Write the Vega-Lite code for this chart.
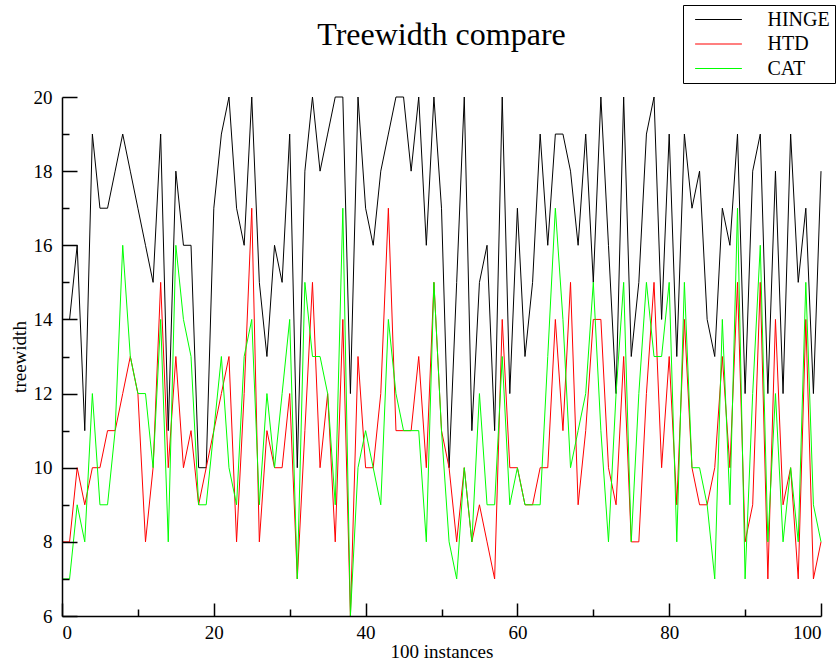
{
  "$schema": "https://vega.github.io/schema/vega-lite/v6.json",
  "width": 759,
  "height": 519,
  "autosize": {"type": "none"},
  "padding": {"left": 62, "top": 97, "right": 19, "bottom": 50},
  "background": "white",
  "config": {"view": {"stroke": null}, "font": "Liberation Serif"},
  "title": {"text": "Treewidth compare", "fontSize": 32, "font": "Liberation Serif", "fontWeight": "normal", "color": "black", "anchor": "middle", "frame": "group", "offset": -47},
  "data": {"values": [
    {"i":0,"HINGE":14,"HTD":8,"CAT":7},{"i":1,"HINGE":14,"HTD":8,"CAT":7},{"i":2,"HINGE":16,"HTD":10,"CAT":9},{"i":3,"HINGE":11,"HTD":9,"CAT":8},{"i":4,"HINGE":19,"HTD":10,"CAT":12},
    {"i":5,"HINGE":17,"HTD":10,"CAT":9},{"i":6,"HINGE":17,"HTD":11,"CAT":9},{"i":7,"HINGE":18,"HTD":11,"CAT":11},{"i":8,"HINGE":19,"HTD":12,"CAT":16},{"i":9,"HINGE":18,"HTD":13,"CAT":13},
    {"i":10,"HINGE":17,"HTD":12,"CAT":12},{"i":11,"HINGE":16,"HTD":8,"CAT":12},{"i":12,"HINGE":15,"HTD":10,"CAT":10},{"i":13,"HINGE":19,"HTD":15,"CAT":14},{"i":14,"HINGE":11,"HTD":10,"CAT":8},
    {"i":15,"HINGE":18,"HTD":13,"CAT":16},{"i":16,"HINGE":16,"HTD":10,"CAT":14},{"i":17,"HINGE":16,"HTD":11,"CAT":13},{"i":18,"HINGE":10,"HTD":9,"CAT":9},{"i":19,"HINGE":10,"HTD":10,"CAT":9},
    {"i":20,"HINGE":17,"HTD":11,"CAT":11},{"i":21,"HINGE":19,"HTD":12,"CAT":13},{"i":22,"HINGE":20,"HTD":13,"CAT":10},{"i":23,"HINGE":17,"HTD":8,"CAT":9},{"i":24,"HINGE":16,"HTD":12,"CAT":13},
    {"i":25,"HINGE":20,"HTD":17,"CAT":14},{"i":26,"HINGE":15,"HTD":8,"CAT":9},{"i":27,"HINGE":13,"HTD":11,"CAT":12},{"i":28,"HINGE":16,"HTD":10,"CAT":10},{"i":29,"HINGE":15,"HTD":10,"CAT":12},
    {"i":30,"HINGE":19,"HTD":12,"CAT":14},{"i":31,"HINGE":10,"HTD":7,"CAT":7},{"i":32,"HINGE":18,"HTD":11,"CAT":15},{"i":33,"HINGE":20,"HTD":15,"CAT":13},{"i":34,"HINGE":18,"HTD":10,"CAT":13},
    {"i":35,"HINGE":19,"HTD":12,"CAT":12},{"i":36,"HINGE":20,"HTD":8,"CAT":9},{"i":37,"HINGE":20,"HTD":14,"CAT":17},{"i":38,"HINGE":12,"HTD":6,"CAT":6},{"i":39,"HINGE":20,"HTD":13,"CAT":10},
    {"i":40,"HINGE":17,"HTD":10,"CAT":11},{"i":41,"HINGE":16,"HTD":10,"CAT":10},{"i":42,"HINGE":18,"HTD":12,"CAT":9},{"i":43,"HINGE":19,"HTD":17,"CAT":14},{"i":44,"HINGE":20,"HTD":11,"CAT":12},
    {"i":45,"HINGE":20,"HTD":11,"CAT":11},{"i":46,"HINGE":18,"HTD":11,"CAT":11},{"i":47,"HINGE":20,"HTD":13,"CAT":11},{"i":48,"HINGE":16,"HTD":10,"CAT":8},{"i":49,"HINGE":20,"HTD":15,"CAT":15},
    {"i":50,"HINGE":17,"HTD":11,"CAT":11},{"i":51,"HINGE":10,"HTD":10,"CAT":8},{"i":52,"HINGE":15,"HTD":8,"CAT":7},{"i":53,"HINGE":20,"HTD":10,"CAT":10},{"i":54,"HINGE":11,"HTD":8,"CAT":8},
    {"i":55,"HINGE":15,"HTD":9,"CAT":12},{"i":56,"HINGE":16,"HTD":8,"CAT":9},{"i":57,"HINGE":11,"HTD":7,"CAT":9},{"i":58,"HINGE":20,"HTD":14,"CAT":13},{"i":59,"HINGE":12,"HTD":10,"CAT":9},
    {"i":60,"HINGE":17,"HTD":10,"CAT":10},{"i":61,"HINGE":13,"HTD":9,"CAT":9},{"i":62,"HINGE":15,"HTD":9,"CAT":9},{"i":63,"HINGE":19,"HTD":10,"CAT":9},{"i":64,"HINGE":16,"HTD":10,"CAT":13},
    {"i":65,"HINGE":19,"HTD":14,"CAT":17},{"i":66,"HINGE":19,"HTD":11,"CAT":14},{"i":67,"HINGE":18,"HTD":15,"CAT":10},{"i":68,"HINGE":16,"HTD":9,"CAT":11},{"i":69,"HINGE":19,"HTD":11,"CAT":12},
    {"i":70,"HINGE":15,"HTD":14,"CAT":15},{"i":71,"HINGE":20,"HTD":14,"CAT":11},{"i":72,"HINGE":16,"HTD":10,"CAT":8},{"i":73,"HINGE":12,"HTD":9,"CAT":12},{"i":74,"HINGE":20,"HTD":13,"CAT":15},
    {"i":75,"HINGE":13,"HTD":8,"CAT":8},{"i":76,"HINGE":15,"HTD":8,"CAT":12},{"i":77,"HINGE":19,"HTD":12,"CAT":15},{"i":78,"HINGE":20,"HTD":15,"CAT":13},{"i":79,"HINGE":14,"HTD":10,"CAT":13},
    {"i":80,"HINGE":19,"HTD":13,"CAT":15},{"i":81,"HINGE":13,"HTD":9,"CAT":8},{"i":82,"HINGE":19,"HTD":14,"CAT":15},{"i":83,"HINGE":17,"HTD":10,"CAT":10},{"i":84,"HINGE":18,"HTD":9,"CAT":10},
    {"i":85,"HINGE":14,"HTD":9,"CAT":9},{"i":86,"HINGE":13,"HTD":10,"CAT":7},{"i":87,"HINGE":17,"HTD":13,"CAT":14},{"i":88,"HINGE":16,"HTD":10,"CAT":9},{"i":89,"HINGE":19,"HTD":15,"CAT":17},
    {"i":90,"HINGE":12,"HTD":8,"CAT":7},{"i":91,"HINGE":18,"HTD":9,"CAT":12},{"i":92,"HINGE":19,"HTD":15,"CAT":16},{"i":93,"HINGE":12,"HTD":7,"CAT":8},{"i":94,"HINGE":18,"HTD":14,"CAT":12},
    {"i":95,"HINGE":12,"HTD":9,"CAT":8},{"i":96,"HINGE":19,"HTD":10,"CAT":10},{"i":97,"HINGE":15,"HTD":7,"CAT":8},{"i":98,"HINGE":17,"HTD":14,"CAT":15},{"i":99,"HINGE":12,"HTD":7,"CAT":9},
    {"i":100,"HINGE":18,"HTD":8,"CAT":8}
  ]},
  "transform": [{"fold": ["HINGE", "HTD", "CAT"], "as": ["series", "treewidth"]}],
  "mark": {"type": "line", "strokeWidth": 1},
  "encoding": {
    "x": {
      "field": "i", "type": "quantitative",
      "scale": {"domain": [0, 100], "nice": false},
      "axis": {
        "values": [0, 10, 20, 30, 40, 50, 60, 70, 80, 90, 100],
        "labelExpr": "datum.value % 20 === 0 ? datum.label : ''",
        "tickSize": {"condition": {"test": "datum.value % 20 === 0", "value": -13}, "value": -7},
        "tickColor": "black", "tickWidth": 1.5, "domainColor": "black", "domainWidth": 1.5,
        "labelColor": "black", "labelFont": "Liberation Serif", "labelFontSize": 19, "labelPadding": 20,
        "title": "100 instances", "titleFont": "Liberation Serif", "titleFontSize": 19, "titleFontWeight": "normal", "titleColor": "black", "titlePadding": 0,
        "grid": false, "zindex": 1
      }
    },
    "y": {
      "field": "treewidth", "type": "quantitative",
      "scale": {"domain": [6, 20], "nice": false, "zero": false},
      "axis": {
        "values": [6, 7, 8, 9, 10, 11, 12, 13, 14, 15, 16, 17, 18, 19, 20],
        "labelExpr": "datum.value % 2 === 0 ? datum.label : ''",
        "tickSize": {"condition": {"test": "datum.value % 2 === 0", "value": -15}, "value": -7},
        "tickColor": "black", "tickWidth": 1.5, "domainColor": "black", "domainWidth": 1.5,
        "labelColor": "black", "labelFont": "Liberation Serif", "labelFontSize": 19, "labelPadding": 25,
        "title": "treewidth", "titleFont": "Liberation Serif", "titleFontSize": 19, "titleFontWeight": "normal", "titleColor": "black", "titlePadding": 4,
        "grid": false, "zindex": 1
      }
    },
    "color": {
      "field": "series", "type": "nominal",
      "scale": {"domain": ["HINGE", "HTD", "CAT"], "range": ["#000000", "#ff0000", "#00ff00"]},
      "legend": {
        "orient": "none", "legendX": 621, "legendY": -92, "title": null,
        "strokeColor": "black", "fillColor": "white", "padding": 4.5,
        "symbolType": "M-5.2,0H5.2", "symbolSize": 81, "symbolStrokeWidth": 1.2, "symbolOffset": 21,
        "labelFont": "Liberation Serif", "labelFontSize": 20, "labelColor": "black",
        "labelOffset": 39, "rowPadding": 4.5
      }
    }
  }
}
